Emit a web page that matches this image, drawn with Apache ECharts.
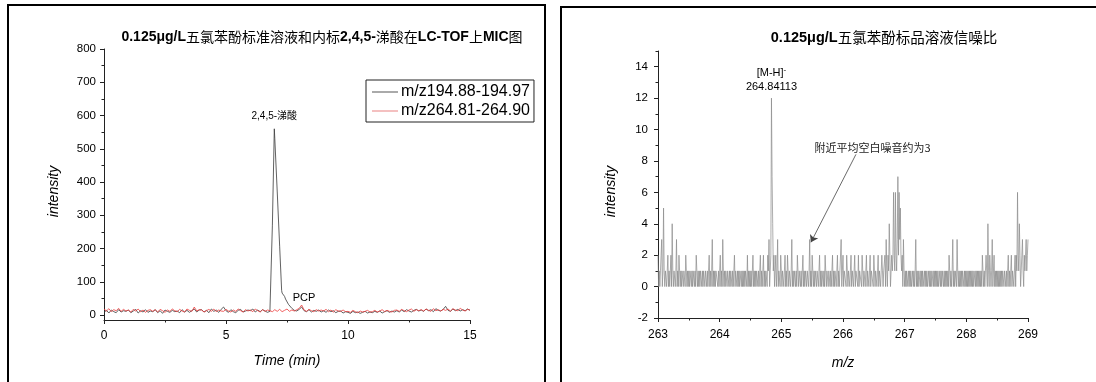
<!DOCTYPE html>
<html><head><meta charset="utf-8">
<script src="https://cdn.jsdelivr.net/npm/echarts@6/dist/echarts.min.js"></script>
<style>html,body{margin:0;padding:0;background:#fff}#c{width:1096px;height:382px}</style>
</head><body><div id="c"></div>
<script>
// ---------- Left panel data (time grid 0..15 min, step 0.1) ----------
const timeStart = 0, timeStep = 0.1;
const blackBase = [
 8,14,6,15,10,7,16,9,13,11,
 15,7,12,17,6,13,9,16,8,12,
 10,16,7,13,5,15,11,8,14,10,
 12,7,16,9,14,8,13,18,9,15,
 16,9,14,7,18,11,15,8,17,24,
 13,8,16,10,7,14,17,9,12,15,
 13,18,9,15,10,16,12,8,11,268,
 530,370,205,66,56,44,28,20,14,12,
 17,24,13,10,16,9,14,11,15,9,
 13,8,15,10,13,7,11,12,6,10,
 8,5,11,7,9,5,8,11,6,9,
 7,11,8,12,6,10,13,8,12,9,
 13,9,15,10,16,12,9,14,17,12,
 15,11,18,13,16,10,19,14,12,17,
 26,14,11,18,13,17,12,16,13,18,
 14];
const redBase = [
 18,12,19,10,16,13,20,11,17,12,
 15,9,17,12,18,10,15,8,14,16,
 11,16,9,17,13,8,15,11,18,13,
 10,17,12,9,18,14,11,24,12,16,
 15,9,13,17,11,18,10,15,12,11,
 17,12,9,15,11,18,13,9,16,12,
 15,10,18,13,9,16,11,15,13,10,
 16,11,17,10,14,18,11,15,12,16,
 20,30,15,11,17,13,10,16,12,15,
 12,17,10,15,9,16,12,11,15,10,
 11,8,14,10,7,12,9,11,14,9,
 10,14,9,12,16,10,14,11,9,14,
 15,11,17,13,10,15,18,11,16,13,
 16,12,18,14,11,19,13,16,12,17,
 14,18,12,19,15,13,20,15,12,17,
 15];
// extra detail points read on the 2,4,5-涕酸 peak (black trace)
const blackPeakTime   = [6.83, 6.98, 7.28, 7.33, 7.36, 7.44, 7.48, 7.56, 7.64, 7.72];
const blackPeakValues = [12,   560,  74,   60,   68,   48,   54,   32,   26,   16];
const seriesNames = ['m/z194.88-194.97', 'm/z264.81-264.90'];
const leftXTicks = [0, 5, 10, 15];
const leftXMinor = [2.5, 7.5, 12.5];
const leftYTicks = [0, 100, 200, 300, 400, 500, 600, 700, 800];
const leftYMinor = [50, 150, 250, 350, 450, 550, 650, 750];

// ---------- Right panel data (m/z grid 263..269, step 0.01) ----------
const mzStart = 263, mzStep = 0.01;
const mzValues = [
 2,0,1,0,1,2,3,0,1,5, 1,0,1,1,0,1,2,0,1,0, 1,2,0,4,1,0,1,1,0,1, 3,0,1,0,2,1,0,1,0,1, 1,0,1,1,0,2,1,0,1,0,
 1,0,1,1,0,1,0,1,1,0, 1,0,2,1,0,1,0,1,0,1, 1,0,1,0,1,1,0,1,1,0, 1,0,1,2,0,1,0,1,3,0, 1,0,1,0,1,1,1,0,1,0,
 1,2,0,1,0,3,1,0,1,0, 1,1,0,1,1,0,1,0,1,1, 0,1,0,1,2,0,1,1,0,1, 0,1,0,1,1,0,1,0,1,0, 1,0,1,1,0,2,0,1,0,1,
 0,1,0,1,2,0,1,0,1,0, 1,1,0,1,0,1,2,0,1,0, 1,2,0,1,0,1,1,0,2,1, 3,0,1,2,12,7,4,1,2,0, 1,2,0,1,3,0,1,1,0,2,
 1,0,1,1,0,1,2,0,1,0, 2,1,0,1,1,0,1,3,0,1, 0,1,1,0,1,0,2,1,0,1, 1,0,1,0,1,2,0,1,0,1, 1,0,1,1,0,1,3,0,1,0,
 2,1,0,1,0,1,1,0,1,1, 0,1,2,0,1,0,1,1,0,1, 0,2,1,0,1,1,0,1,1,0, 1,0,1,2,0,1,0,1,1,0, 1,2,0,1,0,1,1,3,0,1,
 2,0,1,1,1,0,2,1,0,1, 1,0,1,2,0,1,1,0,1,2, 0,1,1,1,0,2,0,1,1,1, 0,2,1,0,1,1,0,1,2,0, 1,1,0,1,2,0,1,1,1,0,
 2,1,0,1,1,0,1,2,0,1, 1,0,1,2,1,0,1,1,2,0, 3,1,0,2,1,4,2,0,1,2, 1,2,6,2,1,6,2,1,3,7, 2,6,3,5,2,1,2,0,3,1,
 0,1,0,1,0,0,1,0,1,0, 1,0,0,1,0,1,0,1,3,0, 1,0,1,0,0,1,0,1,0,1, 0,0,1,0,1,0,1,0,0,1, 0,1,0,1,0,0,1,0,1,0,
 1,0,1,0,1,0,0,1,0,1, 0,1,1,0,1,0,1,0,1,0, 1,0,2,1,0,1,0,1,3,0, 1,0,1,1,0,3,1,0,1,0, 1,0,1,0,1,1,0,1,0,1,
 0,1,0,1,0,1,0,1,0,1, 0,1,0,0,1,0,1,0,1,0, 1,0,1,0,1,0,2,1,0,1, 0,1,2,1,0,4,1,0,2,1, 0,1,3,0,1,2,0,1,0,1,
 0,1,0,1,0,1,0,1,0,1, 1,0,1,1,0,1,0,1,2,0, 1,0,1,2,0,1,1,0,1,2, 0,2,1,6,2,1,4,2,0,1, 2,3,1,0,2,1,2,3,1,2,
 3];
const rightXTicks = [263, 264, 265, 266, 267, 268, 269];
const rightXMinor = [263.5, 264.5, 265.5, 266.5, 267.5, 268.5];
const rightYTicks = [-2, 0, 2, 4, 6, 8, 10, 12, 14];
const rightYMinor = [-1, 1, 3, 5, 7, 9, 11, 13, 15];

// ---------- build series data ----------
const r2 = v => Math.round(v * 1000) / 1000;
const redData = redBase.map((v, i) => [r2(timeStart + i * timeStep), v]);
const blackData = blackBase.map((v, i) => [r2(timeStart + i * timeStep), v])
  .concat(blackPeakTime.map((t, i) => [t, blackPeakValues[i]]))
  .sort((a, b) => a[0] - b[0]);
const mzData = mzValues.map((v, i) => [r2(mzStart + i * mzStep), v]);

const FONT = 'Arial, "Liberation Sans", sans-serif';
const CJK = '"Noto Sans CJK SC", sans-serif';
const AX = '#222';
const BLACK_LINE = '#3a3a3a', RED_LINE = '#ee3b3b';

function majorAxis(o) {
  return Object.assign({
    type: 'value', splitLine: { show: false },
    axisLine: { show: true, onZero: false, lineStyle: { color: AX, width: 1 } },
    axisTick: { show: true, inside: false, length: 4, customValues: o.ticks, lineStyle: { color: AX, width: 1 } },
    axisLabel: { show: true, customValues: o.ticks, color: '#000', fontFamily: FONT, fontSize: o.fs || 11.5, margin: o.margin },
    nameTextStyle: { fontFamily: FONT, fontSize: 14, fontStyle: 'italic', color: '#000', padding: o.np || 0 },
    nameLocation: 'middle'
  }, o.extra);
}
function minorAxis(o) {
  return Object.assign({
    type: 'value', splitLine: { show: false },
    axisLine: { show: false, onZero: false },
    axisTick: { show: true, inside: false, length: 2.5, customValues: o.ticks, lineStyle: { color: AX, width: 1 } },
    axisLabel: { show: false }
  }, o.extra);
}

const chart = echarts.init(document.getElementById('c'), null, { renderer: 'canvas' });
chart.setOption({
  animation: false,
  backgroundColor: '#fff',
  title: [
    { left: 317, top: 25, textAlign: 'center',
      text: '{b|0.125μg/L}{c|五氯苯酚标准溶液和内标}{b|2,4,5-}{c|涕酸在}{b|LC-TOF}{c|上}{b|MIC}{c|图}',
      textStyle: { rich: {
        b: { fontFamily: FONT, fontWeight: 'bold', fontSize: 14, color: '#000' },
        c: { fontFamily: CJK, fontWeight: 'normal', fontSize: 14, color: '#000' } } } },
    { left: 879, top: 25, textAlign: 'center',
      text: '{b|0.125μg/L}{c|五氯苯酚标品溶液信噪比}',
      textStyle: { rich: {
        b: { fontFamily: FONT, fontWeight: 'bold', fontSize: 14.5, color: '#000' },
        c: { fontFamily: CJK, fontWeight: 'normal', fontSize: 14.5, color: '#000' } } } }
  ],
  legend: {
    data: [
      { name: seriesNames[0], itemStyle: { color: '#555' } },
      { name: seriesNames[1], itemStyle: { color: '#e98080' } }
    ],
    orient: 'vertical', left: 366, top: 80,
    borderColor: '#222', borderWidth: 1, padding: [4, 4, 3, 6], itemGap: 3,
    icon: 'rect', itemWidth: 26, itemHeight: 1,
    textStyle: { fontFamily: FONT, fontSize: 16, color: '#000', padding: [0, 0, 0, -2] }
  },
  grid: [
    { left: 104, top: 49, width: 366, height: 271, outerBoundsMode: 'none' },
    { left: 104, top: 49, width: 366, height: 271, outerBoundsMode: 'none' },
    { left: 658, top: 51, width: 370, height: 267, outerBoundsMode: 'none' },
    { left: 658, top: 51, width: 370, height: 267, outerBoundsMode: 'none' }
  ],
  xAxis: [
    majorAxis({ ticks: leftXTicks, margin: 10, fs: 12, extra: { gridIndex: 0, min: 0, max: 15, position: 'bottom', name: 'Time (min)', nameGap: 34 } }),
    minorAxis({ ticks: leftXMinor, extra: { gridIndex: 1, min: 0, max: 15, position: 'bottom' } }),
    majorAxis({ ticks: rightXTicks, margin: 11, fs: 12, extra: { gridIndex: 2, min: 263, max: 269, position: 'bottom', name: 'm/z', nameGap: 38 } }),
    minorAxis({ ticks: rightXMinor, extra: { gridIndex: 3, min: 263, max: 269, position: 'bottom' } })
  ],
  yAxis: [
    majorAxis({ ticks: leftYTicks, margin: 8, np: [0, 14, 0, 0], extra: { gridIndex: 0, min: -15, max: 800, position: 'left', name: 'intensity', nameGap: 43 } }),
    minorAxis({ ticks: leftYMinor, extra: { gridIndex: 1, min: -15, max: 800, position: 'left' } }),
    majorAxis({ ticks: rightYTicks, margin: 10, np: [0, 14, 0, 0], extra: { gridIndex: 2, min: -2, max: 15, position: 'left', name: 'intensity', nameGap: 40 } }),
    minorAxis({ ticks: rightYMinor, extra: { gridIndex: 3, min: -2, max: 15, position: 'left' } })
  ],
  series: [
    { name: seriesNames[0], type: 'line', xAxisIndex: 0, yAxisIndex: 0, data: blackData,
      showSymbol: false, symbol: 'none', color: BLACK_LINE, lineStyle: { color: BLACK_LINE, width: 0.8 },
      markPoint: { symbol: 'circle', symbolSize: 0, silent: true,
        data: [
          { coord: [6.98, 560], label: { show: true, position: 'top', distance: 8, formatter: '2,4,5-涕酸', fontFamily: FONT + ',' + CJK, fontSize: 10, color: '#000' } },
          { coord: [8.2, 51], label: { show: true, position: 'inside', formatter: 'PCP', fontFamily: FONT, fontSize: 11, color: '#000' } }
        ] } },
    { name: seriesNames[1], type: 'line', xAxisIndex: 0, yAxisIndex: 0, data: redData,
      showSymbol: false, symbol: 'none', color: RED_LINE, lineStyle: { color: RED_LINE, width: 0.8 } },
    { name: 'S/N', type: 'line', xAxisIndex: 2, yAxisIndex: 2, data: mzData,
      showSymbol: false, symbol: 'none', lineStyle: { color: '#8a8a8a', width: 0.7 },
      markPoint: { symbol: 'circle', symbolSize: 0, silent: true,
        data: [
          { coord: [264.84, 12], label: { show: true, position: 'top', distance: 4, lineHeight: 14,
              formatter: '{a|[M-H]}{s|-}\n{a|264.84113}',
              rich: { a: { fontFamily: FONT, fontSize: 11, color: '#000', lineHeight: 14 },
                      s: { fontFamily: FONT, fontSize: 8, color: '#000', padding: [0, 0, 6, 0] } } } },
          { coord: [266.48, 8.86], label: { show: true, position: 'inside', formatter: '附近平均空白噪音约为3', fontFamily: CJK, fontSize: 11, color: '#222' } }
        ] },
      markLine: { silent: true, symbol: ['none', 'arrow'], symbolSize: 7, label: { show: false },
        lineStyle: { color: '#444', width: 0.8, type: 'solid' },
        data: [[ { coord: [266.21, 8.42] }, { coord: [265.48, 2.82] } ]] } }
  ],
  graphic: [
    { type: 'rect', shape: { x: 8, y: 5, width: 537, height: 400 }, style: { fill: 'none', stroke: '#000', lineWidth: 2 }, silent: true },
    { type: 'rect', shape: { x: 561, y: 7, width: 600, height: 400 }, style: { fill: 'none', stroke: '#000', lineWidth: 2 }, silent: true }
  ]
});
</script></body></html>
